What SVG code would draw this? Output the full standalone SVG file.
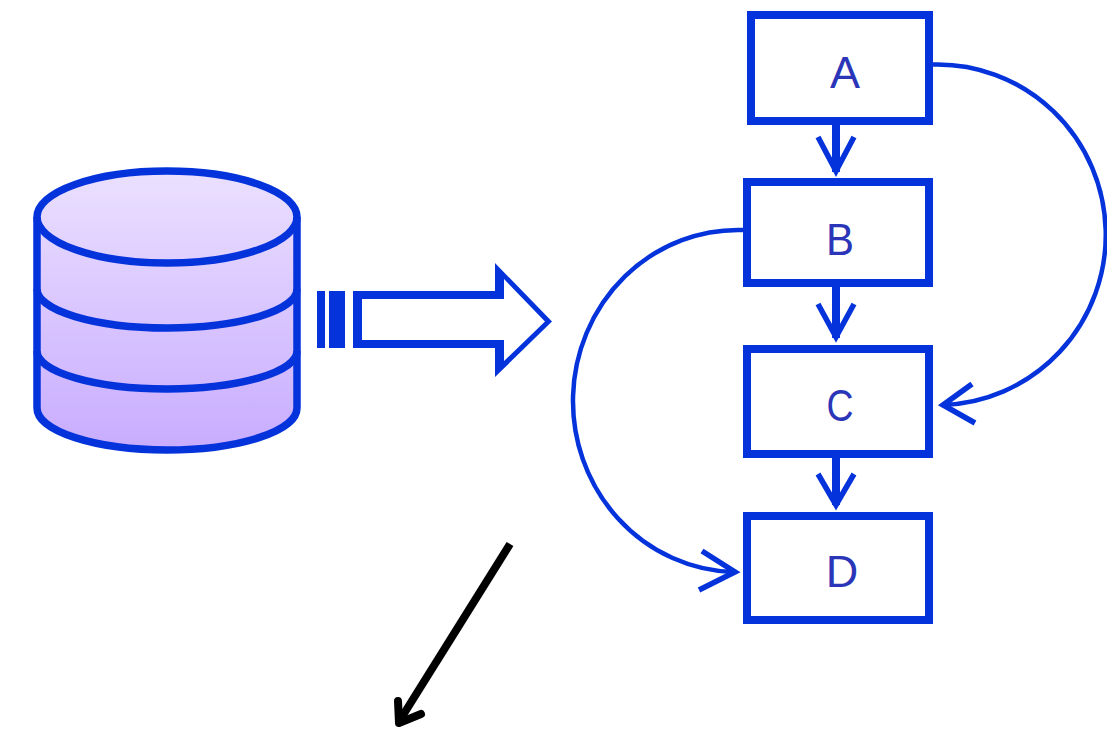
<svg xmlns="http://www.w3.org/2000/svg" width="1107" height="729" viewBox="0 0 1107 729">
<style>
.box{fill:#fff;stroke:#0433dc;stroke-width:8}
.lbl{font-family:"Liberation Sans",Arial,sans-serif;font-size:45px;fill:#2a35b8;text-anchor:middle}
.stem{fill:none;stroke:#0433dc;stroke-width:8}
.curve{fill:none;stroke:#0433dc;stroke-width:4.5}
.head{fill:none;stroke:#0433dc;stroke-width:5.500}
.cyl{fill:url(#cg);stroke:#0433dc;stroke-width:7.500}
.cyll{fill:none;stroke:#0433dc;stroke-width:7.500}
</style>
<defs>
<linearGradient id="cg" x1="0" y1="0" x2="0" y2="1"><stop offset="0" stop-color="#ebe0ff"/><stop offset="1" stop-color="#c8acff"/></linearGradient>
</defs>
<rect width="1107" height="729" fill="#fff"/>
<g id="database">
<path class="cyl" d="M37,217 A130,46 0 0 1 297,217 V408 A130,42 0 0 1 37,408 Z"/>
<path class="cyll" d="M37,217 A130,46 0 0 0 297,217"/>
<path class="cyll" d="M37,289 A130,39 0 0 0 297,289"/>
<path class="cyll" d="M37,351 A130,38 0 0 0 297,351"/>
</g>
<g id="big-arrow">
<rect x="317" y="291" width="8" height="57" fill="#0433dc"/>
<rect x="329" y="291" width="16" height="57" fill="#0433dc"/>
<path fill-rule="evenodd" fill="#0433dc" d="M353,291 H495 V263 L552,321.500 L495,377 V348 H353 Z M362,299 V340 H504 V361 L545,321.500 L504,279 V299 Z"/>
</g>
<g id="node-a"><rect class="box" x="751" y="15" width="178" height="106"/><text class="lbl" x="845" y="88">A</text></g>
<g id="node-b"><rect class="box" x="747" y="182" width="182" height="101"/><text class="lbl" x="840" y="255" textLength="28" lengthAdjust="spacingAndGlyphs">B</text></g>
<g id="node-c"><rect class="box" x="747" y="349" width="182" height="105"/><text class="lbl" x="840" y="421" textLength="27" lengthAdjust="spacingAndGlyphs">C</text></g>
<g id="node-d"><rect class="box" x="747" y="516" width="182" height="104"/><text class="lbl" x="842" y="587">D</text></g>
<g id="connectors">
<path class="stem" d="M836,125 V172"/>
<path class="head" d="M818,137 L836,171 L854,137"/>
<path class="stem" d="M836,287 V338"/>
<path class="head" d="M818,304 L836,337 L854,304"/>
<path class="stem" d="M836,458 V505"/>
<path class="head" d="M818,474 L836,505 L854,474"/>
<path class="curve" d="M933,64.500 A168,170 0 0 1 942,405"/>
<path class="head" d="M972,384 L943,405 L975,423"/>
<path class="curve" d="M743,230 A165,171 0 0 0 733,572"/>
<path class="head" d="M702,551 L735,572 L699,590"/>
<path d="M510,544 L400,720" fill="none" stroke="#000" stroke-width="8"/>
<path d="M398,701 L399,723 L421,714" fill="none" stroke="#000" stroke-width="8" stroke-linecap="round" stroke-linejoin="round"/>
</g>
</svg>
